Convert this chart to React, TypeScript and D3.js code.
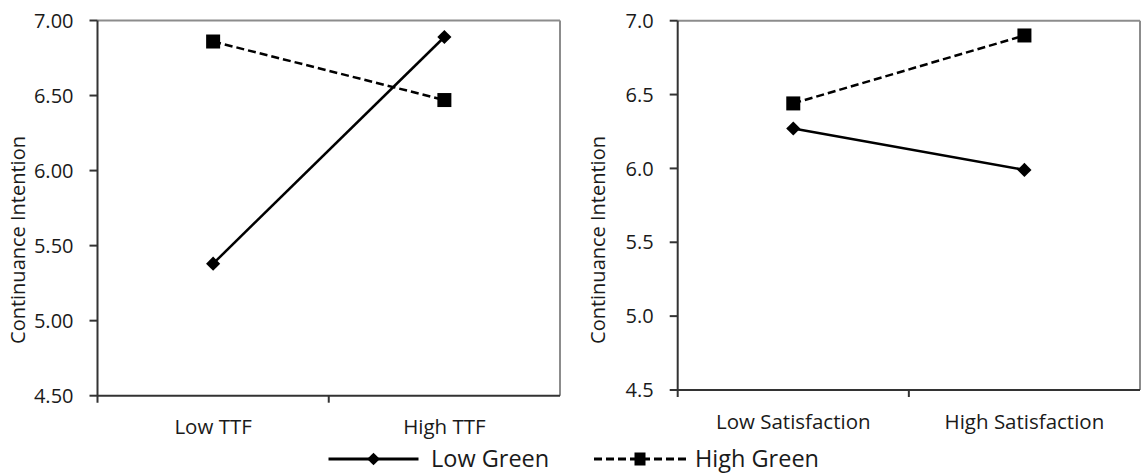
import React, { useEffect, useRef } from "react";
import * as d3 from "d3";

// values
const ttfCategories = [ "Low TTF", "High TTF" ];
const satCategories = [ "Low Satisfaction", "High Satisfaction" ];
const ttfLowGreen = [ 5.38, 6.89 ];
const ttfHighGreen = [ 6.86, 6.47 ];
const satLowGreen = [ 6.27, 5.99 ];
const satHighGreen = [ 6.44, 6.90 ];
const yTicks = [ 4.5, 5.0, 5.5, 6.0, 6.5, 7.0 ];
const seriesNames = [ "Low Green", "High Green" ];
const yTitle = "Continuance Intention";

const FONT = "'Open Sans', sans-serif";
const INK = "#1a1a1a";

type Panel = {
	categories: string[];
	low: number[];
	high: number[];
	fmt: string;
	left: number;
	right: number;
	top: number;
	bottom: number;
	titleX: number;
};

const panels: Panel[] = [
	{ categories: ttfCategories, low: ttfLowGreen, high: ttfHighGreen, fmt: ".2f", left: 97.5, right: 560, top: 20.5, bottom: 395.7, titleX: 25 },
	{ categories: satCategories, low: satLowGreen, high: satHighGreen, fmt: ".1f", left: 677.7, right: 1140, top: 20.7, bottom: 390, titleX: 605 },
];

function drawDiamond( g: any, x: number, y: number, s: number ) {
	g.append( "rect" )
		.attr( "x", -s / 2 ).attr( "y", -s / 2 )
		.attr( "width", s ).attr( "height", s )
		.attr( "fill", "#000" )
		.attr( "transform", "translate(" + x + "," + y + ") rotate(45)" );
}

function drawSquare( g: any, x: number, y: number, w: number, h: number ) {
	g.append( "rect" )
		.attr( "x", x - w / 2 ).attr( "y", y - h / 2 )
		.attr( "width", w ).attr( "height", h )
		.attr( "fill", "#000" );
}

function drawPanel( svg: any, p: Panel ) {
	let x = d3.scaleBand().domain( p.categories ).range( [ p.left, p.right ] ).padding( 0 );
	let y = d3.scaleLinear().domain( [ 4.5, 7.0 ] ).range( [ p.bottom, p.top ] );
	let cx = ( c: string ) => ( x( c ) as number ) + x.bandwidth() / 2;

	let g = svg.append( "g" );

	// frame: grey top / right, dark axes
	g.append( "line" ).attr( "x1", p.left ).attr( "x2", p.right ).attr( "y1", p.top ).attr( "y2", p.top )
		.attr( "stroke", "#8c8c8c" ).attr( "stroke-width", 2 );
	g.append( "line" ).attr( "x1", p.right ).attr( "x2", p.right ).attr( "y1", p.top ).attr( "y2", p.bottom )
		.attr( "stroke", "#8c8c8c" ).attr( "stroke-width", 2 );

	g.append( "line" ).attr( "x1", p.left ).attr( "x2", p.left ).attr( "y1", p.top ).attr( "y2", p.bottom + 7 )
		.attr( "stroke", "#333" ).attr( "stroke-width", 2 );
	g.append( "line" ).attr( "x1", p.left ).attr( "x2", p.right ).attr( "y1", p.bottom ).attr( "y2", p.bottom )
		.attr( "stroke", "#333" ).attr( "stroke-width", 2 );

	// y ticks
	let fmt = d3.format( p.fmt );
	yTicks.forEach( ( t ) => {
		g.append( "line" ).attr( "x1", p.left - 8 ).attr( "x2", p.left ).attr( "y1", y( t ) ).attr( "y2", y( t ) )
			.attr( "stroke", "#333" ).attr( "stroke-width", 2 );
		g.append( "text" )
			.attr( "x", p.left - 24 ).attr( "y", y( t ) + 7.2 )
			.attr( "text-anchor", "end" )
			.attr( "font-family", FONT ).attr( "font-size", 20 ).attr( "fill", INK )
			.text( fmt( t ) );
	});

	// category ticks on band boundaries (no end tick)
	p.categories.slice( 1 ).forEach( ( c ) => {
		g.append( "line" ).attr( "x1", x( c ) ).attr( "x2", x( c ) ).attr( "y1", p.bottom ).attr( "y2", p.bottom + 7 )
			.attr( "stroke", "#333" ).attr( "stroke-width", 2 );
	});

	p.categories.forEach( ( c ) => {
		g.append( "text" )
			.attr( "x", cx( c ) ).attr( "y", p.bottom + 38.6 )
			.attr( "text-anchor", "middle" )
			.attr( "font-family", FONT ).attr( "font-size", 20.5 ).attr( "fill", INK )
			.text( c );
	});

	// axis title
	g.append( "text" )
		.attr( "transform", "translate(" + p.titleX + "," + 240 + ") rotate(-90)" )
		.attr( "text-anchor", "middle" )
		.attr( "font-family", FONT ).attr( "font-size", 20 ).attr( "fill", INK )
		.text( yTitle );

	let line = d3.line<number>()
		.x( ( d, i ) => cx( p.categories[ i ] ) )
		.y( ( d ) => y( d ) );

	g.append( "path" ).attr( "d", line( p.high ) ).attr( "fill", "none" )
		.attr( "stroke", "#000" ).attr( "stroke-width", 2.5 ).attr( "stroke-dasharray", "8,4" );
	g.append( "path" ).attr( "d", line( p.low ) ).attr( "fill", "none" )
		.attr( "stroke", "#000" ).attr( "stroke-width", 2.5 );

	p.high.forEach( ( v, i ) => drawSquare( g, cx( p.categories[ i ] ), y( v ), 14, 14 ) );
	p.low.forEach( ( v, i ) => drawDiamond( g, cx( p.categories[ i ] ), y( v ), 10 ) );
}

function drawLegend( svg: any ) {
	let g = svg.append( "g" );
	let ly = 459;

	g.append( "line" ).attr( "x1", 328.5 ).attr( "x2", 418.5 ).attr( "y1", ly ).attr( "y2", ly )
		.attr( "stroke", "#000" ).attr( "stroke-width", 3 );
	drawDiamond( g, 373.5, ly, 9 );
	g.append( "text" ).attr( "x", 431 ).attr( "y", ly + 8 )
		.attr( "font-family", FONT ).attr( "font-size", 23.5 ).attr( "fill", INK )
		.text( seriesNames[ 0 ] );

	g.append( "line" ).attr( "x1", 594 ).attr( "x2", 686 ).attr( "y1", ly ).attr( "y2", ly )
		.attr( "stroke", "#000" ).attr( "stroke-width", 3 ).attr( "stroke-dasharray", "8,4" );
	drawSquare( g, 640, ly, 11, 13 );
	g.append( "text" ).attr( "x", 695 ).attr( "y", ly + 8 )
		.attr( "font-family", FONT ).attr( "font-size", 23.5 ).attr( "fill", INK )
		.text( seriesNames[ 1 ] );
}

export default function App() {
	const ref = useRef<SVGSVGElement>( null );

	useEffect( () => {
		let svg = d3.select( ref.current );
		svg.selectAll( "*" ).remove();
		panels.forEach( ( p ) => drawPanel( svg, p ) );
		drawLegend( svg );
	}, [] );

	return (
		<svg ref={ ref } width={ 1143 } height={ 474 }
			style={ { position: "absolute", left: 0, top: 0, background: "#fff" } } />
	);
}
